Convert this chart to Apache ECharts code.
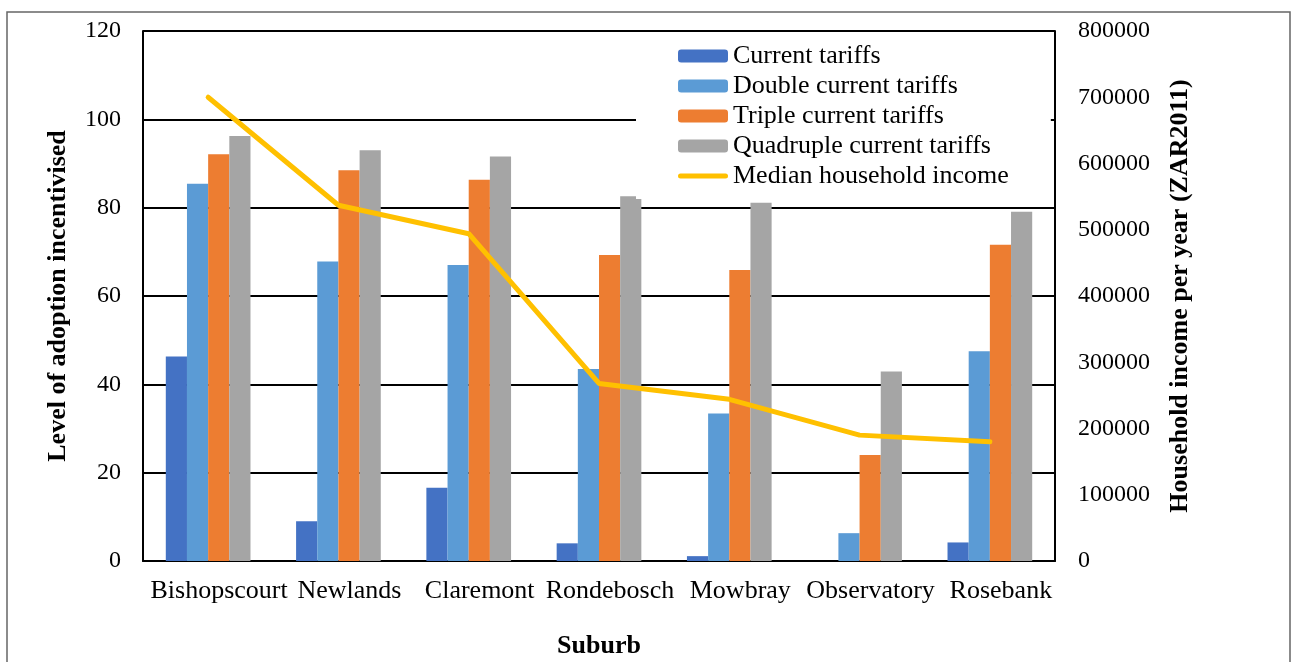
<!DOCTYPE html>
<html>
<head>
<meta charset="utf-8">
<script src="https://cdn.jsdelivr.net/npm/echarts@6/dist/echarts.min.js"></script>
<style>
  html, body { margin: 0; padding: 0; background: #fff; }
  #main { width: 1296px; height: 662px; }
</style>
</head>
<body>
<div id="main"></div>
<script>
// suburbs along the x axis
var suburbs = ['Bishopscourt', 'Newlands', 'Claremont', 'Rondebosch', 'Mowbray', 'Observatory', 'Rosebank'];

// level of adoption incentivised (left axis)
var currentTariffs = [46.3, 9.0, 16.6, 4.0, 1.1, 0, 4.2];
var doubleTariffs = [85.4, 67.8, 67.0, 43.5, 33.4, 6.3, 47.5];
var tripleTariffs = [92.1, 88.5, 86.3, 69.3, 65.9, 24.0, 71.6];
var quadrupleTariffs = [96.2, 93.0, 91.6, 82.6, 81.1, 42.9, 79.1];

// median household income, ZAR2011 (right axis)
var medianIncome = [700000, 537000, 494000, 268000, 244000, 190000, 180000];

var serif = 'Liberation Serif';

var myChart = echarts.init(document.getElementById('main'));
myChart.setOption({
  animation: false,
  backgroundColor: '#fff',
  graphic: [{
    type: 'rect',
    shape: { x: 7, y: 12, width: 1283, height: 660 },
    style: { fill: 'none', stroke: '#666', lineWidth: 1.5 },
    z: -10
  }],
  legend: {
    orient: 'vertical',
    left: 636,
    top: 33,
    padding: [10, 42, 10, 42],
    backgroundColor: '#fff',
    itemWidth: 50,
    itemHeight: 13,
    itemGap: 4,
    symbolKeepAspect: true,
    z: 10,
    textStyle: { fontFamily: serif, fontSize: 26, color: '#000', lineHeight: 26 },
    data: [
      'Current tariffs',
      'Double current tariffs',
      'Triple current tariffs',
      'Quadruple current tariffs',
      {
        name: 'Median household income',
        icon: 'path://M5,0 H95 A5,5 0 0 1 95,10 H5 A5,5 0 0 1 5,0 Z',
        itemStyle: { color: '#FFC000' }
      }
    ]
  },
  grid: {
    left: 143,
    right: 241,
    top: 31,
    bottom: 101,
    outerBoundsMode: 'none'
  },
  xAxis: {
    type: 'category',
    data: suburbs,
    name: 'Suburb',
    nameLocation: 'middle',
    nameGap: 72,
    nameTextStyle: { fontFamily: serif, fontSize: 26, fontWeight: 'bold', color: '#000' },
    axisLine: { lineStyle: { color: '#000', width: 2 } },
    axisTick: { show: false },
    axisLabel: {
      interval: 0, fontFamily: serif, fontSize: 26, color: '#000', margin: 17,
      padding: [0, 0, 0, 22]
    }
  },
  yAxis: [{
    type: 'value',
    min: 0,
    max: 120,
    interval: 20,
    name: 'Level of adoption incentivised',
    nameLocation: 'middle',
    nameRotate: 90,
    nameGap: 72,
    nameTextStyle: { fontFamily: serif, fontSize: 26, fontWeight: 'bold', color: '#000' },
    axisLine: { show: true, lineStyle: { color: '#000', width: 2 } },
    axisTick: { show: false },
    axisLabel: { fontFamily: serif, fontSize: 24, color: '#000', margin: 22 },
    splitLine: { lineStyle: { color: '#000', width: 2 } }
  }, {
    type: 'value',
    min: 0,
    max: 800000,
    interval: 100000,
    position: 'right',
    name: 'Household income per year (ZAR2011)',
    nameLocation: 'middle',
    nameRotate: 90,
    nameGap: 112,
    nameTextStyle: { fontFamily: serif, fontSize: 26, fontWeight: 'bold', color: '#000' },
    axisLine: { show: true, lineStyle: { color: '#000', width: 2 } },
    axisTick: { show: false },
    axisLabel: {
      fontFamily: serif, fontSize: 24, color: '#000', margin: 23,
      formatter: function (v) { return String(v); }
    },
    splitLine: { show: false }
  }],
  series: [
    {
      name: 'Current tariffs',
      type: 'bar',
      data: currentTariffs,
      itemStyle: { color: '#4472C4' },
      barGap: 0,
      barCategoryGap: '35%'
    },
    {
      name: 'Double current tariffs',
      type: 'bar',
      data: doubleTariffs,
      itemStyle: { color: '#5B9BD5' },
      barGap: 0,
      barCategoryGap: '35%'
    },
    {
      name: 'Triple current tariffs',
      type: 'bar',
      data: tripleTariffs,
      itemStyle: { color: '#ED7D31' },
      barGap: 0,
      barCategoryGap: '35%'
    },
    {
      name: 'Quadruple current tariffs',
      type: 'bar',
      data: quadrupleTariffs,
      itemStyle: { color: '#A5A5A5' },
      barGap: 0,
      barCategoryGap: '35%'
    },
    {
      name: 'Median household income',
      type: 'line',
      yAxisIndex: 1,
      data: medianIncome,
      symbol: 'none',
      itemStyle: { color: '#FFC000' },
      lineStyle: { color: '#FFC000', width: 5, cap: 'round', join: 'round' },
      z: 5
    }
  ]
});
</script>
</body>
</html>
